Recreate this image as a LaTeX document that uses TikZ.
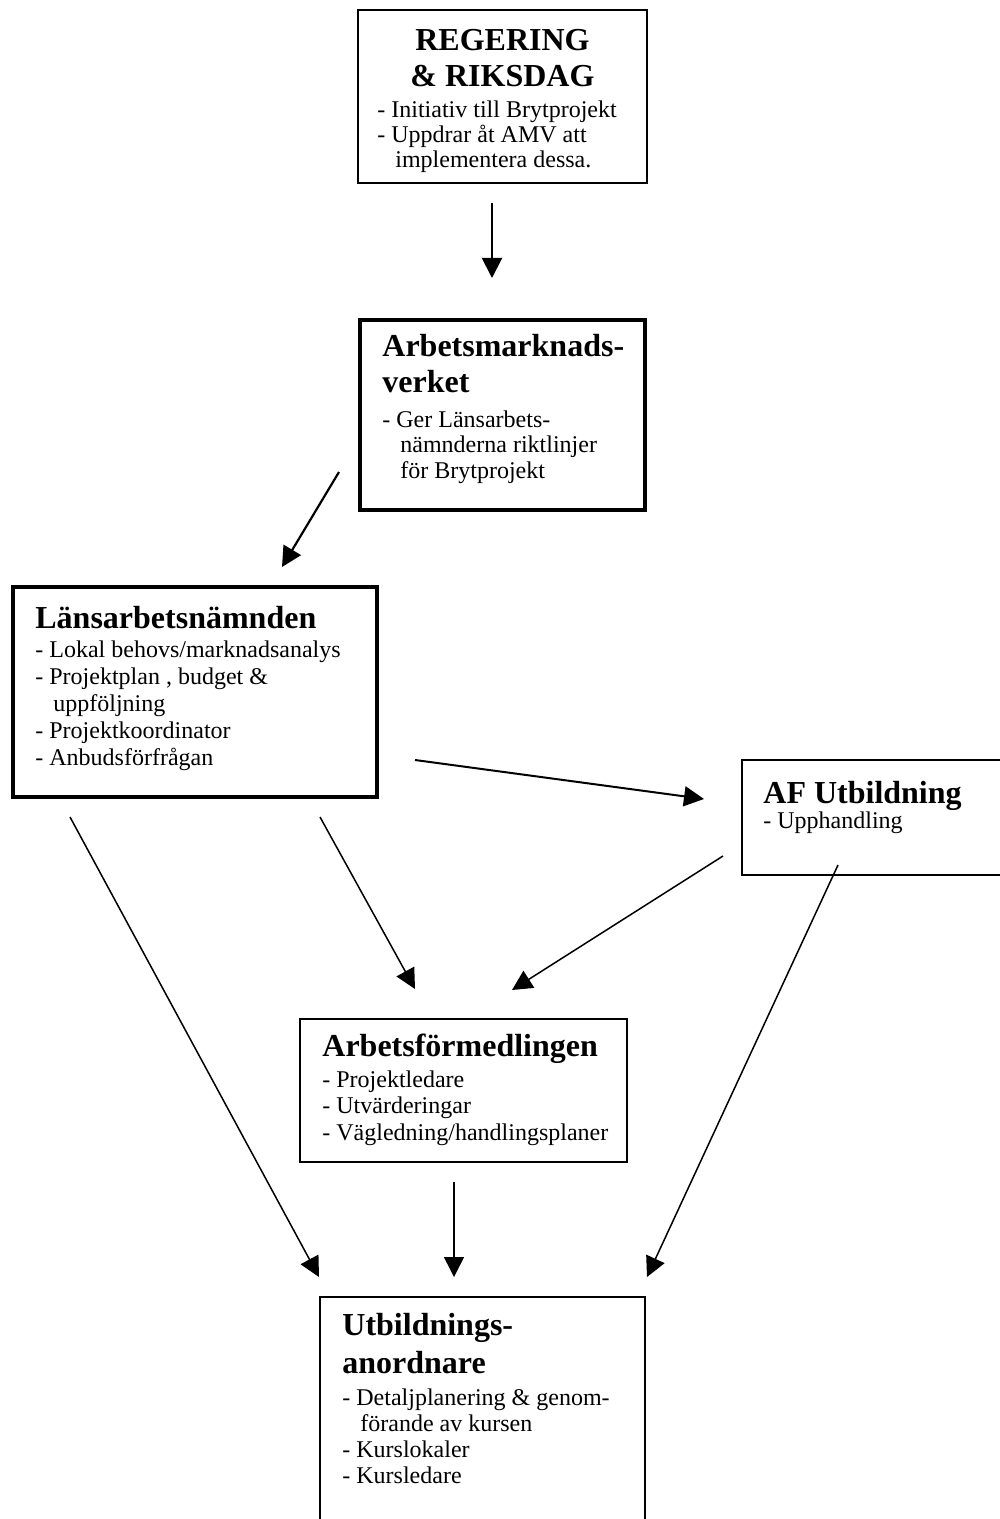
\documentclass[tikz,border=0pt]{standalone}
\usepackage{fontspec}
\setmainfont{Liberation Serif}
\usetikzlibrary{arrows.meta, fit}

\newcommand{\ind}{\hspace*{9pt}}

\tikzset{
  box/.style={draw, inner sep=0pt, line width=#1},
  box/.default=0.75pt,
  hd/.style={inner sep=0pt, align=left, font=\bfseries\fontsize{16}{18}\selectfont},
  txt/.style={inner sep=0pt, align=left, font=\fontsize{12}{13}\selectfont},
  link/.style={->, line width=#1},
  link/.default=0.75pt,
}

\begin{document}
\begin{tikzpicture}[x=0.5pt, y=-0.5pt, >={Triangle[length=10pt,width=10pt]}]
  \useasboundingbox (0,0) rectangle (1000,1519);

  % boxes
  \node [box=1pt, fit={(358,10) (647,183)}] (reg) {};
  \node [box=1.75pt, fit={(360,320) (645,510)}] (amv) {};
  \node [box=1.75pt, fit={(13,587) (377,797)}] (lan) {};
  \node [box=1pt, fit={(742,760) (1010,875)}] (afu) {};
  \node [box, fit={(300,1019) (627,1162)}] (af) {};
  \node [box, fit={(320,1297) (645,1540)}] (utb) {};

  % texts (placed at the baseline of their last line)
  \begin{scope}
    \clip (358,10) rectangle (647,174);
    \node [hd, align=center, anchor=base] (regT) at (502.5,87) {REGERING\\\& RIKSDAG};
    \node [txt, anchor=base west, font=\fontsize{12}{12.5}\selectfont] (regL) at (377,168)
      {- Initiativ till Brytprojekt\\- Uppdrar åt AMV att\\\ind implementera dessa.};
  \end{scope}

  \node [hd, anchor=base west] (amvT) at (382,393) {Arbetsmarknads-\\verket};
  \node [txt, anchor=base west, font=\fontsize{12}{12.75}\selectfont] (amvL) at (382,478)
    {- Ger Länsarbets-\\\ind nämnderna riktlinjer\\\ind för Brytprojekt};

  \node [hd, anchor=base west] (lanT) at (35,628) {Länsarbetsnämnden};
  \node [txt, anchor=base west, font=\fontsize{12}{13.5}\selectfont] (lanL) at (35,765)
    {- Lokal behovs/marknadsanalys\\- Projektplan , budget \&\\\ind uppföljning\\- Projektkoordinator\\- Anbudsförfrågan};

  \node [hd, anchor=base west] (afuT) at (763,803) {AF Utbildning};
  \node [txt, anchor=base west] (afuL) at (763,828) {- Upphandling};

  \node [hd, anchor=base west] (afT) at (322,1056) {Arbetsförmedlingen};
  \node [txt, anchor=base west, font=\fontsize{12}{13.25}\selectfont] (afL) at (322,1140)
    {- Projektledare\\- Utvärderingar\\- Vägledning/handlingsplaner};

  \node [hd, anchor=base west, font=\bfseries\fontsize{16}{19}\selectfont] (utbT) at (342,1373) {Utbildnings-\\anordnare};
  \node [txt, anchor=base west] (utbL) at (342,1483)
    {- Detaljplanering \& genom-\\\ind förande av kursen\\- Kurslokaler\\- Kursledare};

  % arrow ends
  \coordinate (regOut) at (492,203);
  \coordinate (amvIn) at (492,278);
  \coordinate (amvOut) at (339,472);
  \coordinate (lanIn) at (282,567);
  \coordinate (lanR) at (415,760);
  \coordinate (afuIn) at (704,799);
  \coordinate (lanBL) at (70,817);
  \coordinate (lanBR) at (320,817);
  \coordinate (afInL) at (415,989);
  \coordinate (afuOut) at (723,856);
  \coordinate (afInR) at (512,990);
  \coordinate (afuB) at (838,865);
  \coordinate (afOut) at (454,1182);
  \coordinate (utbInL) at (319,1277);
  \coordinate (utbInM) at (454,1277);
  \coordinate (utbInR) at (647,1277);

  % arrows
  \draw [link=1pt] (regOut) -- (amvIn);
  \draw [link=1.1pt] (amvOut) -- (lanIn);
  \draw [link=1pt] (lanR) -- (afuIn);
  \draw [link] (lanBL) -- (utbInL);
  \draw [link] (lanBR) -- (afInL);
  \draw [link] (afuOut) -- (afInR);
  \draw [link] (afuB) -- (utbInR);
  \draw [link] (afOut) -- (utbInM);
\end{tikzpicture}
\end{document}
